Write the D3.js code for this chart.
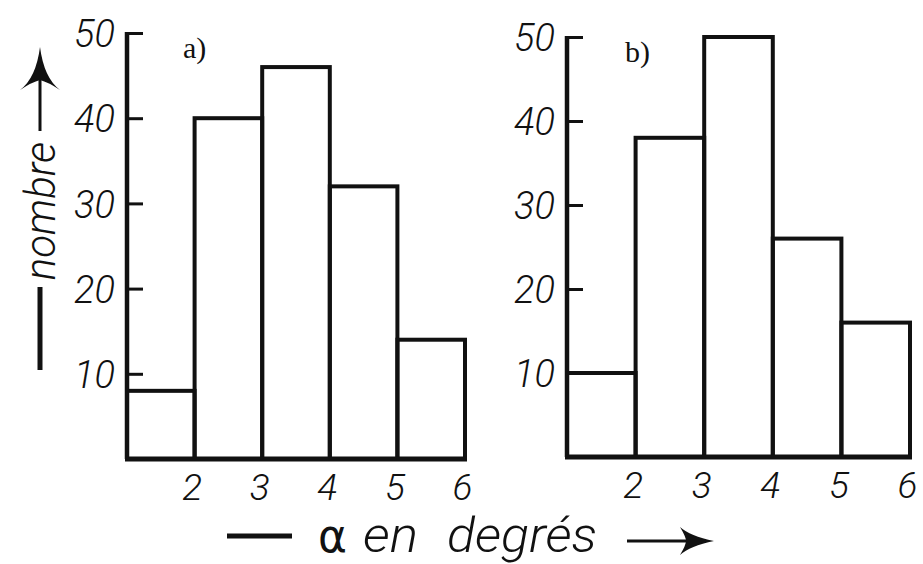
<!DOCTYPE html>
<html>
<head>
<meta charset="utf-8">
<script src="https://cdn.jsdelivr.net/npm/d3@7"></script>
<style>
  html, body { margin: 0; padding: 0; background: #ffffff; }
  svg { display: block; }
  .lbl { font-family: Roboto, "Liberation Sans", Arial, sans-serif; font-style: italic; font-weight: 300; fill: #111; }
  .panel-id { font-family: "Liberation Serif", "DejaVu Serif", serif; fill: #111; }
</style>
</head>
<body>
<svg id="chart" width="923" height="564"></svg>
<script>
// ---- data ----
const binEdges = [1, 2, 3, 4, 5, 6];
const xTickLabels = ["2", "3", "4", "5", "6"];
const xTickValues = [2, 3, 4, 5, 6];
const yTicks = [10, 20, 30, 40, 50];
const valuesA = [8, 40, 46, 32, 14];
const valuesB = [10, 38, 50, 26, 16];
const panelNames = ["a)", "b)"];
const xTitleWords = ["α", "en", "degrés"];
const yTitle = "nombre";

const svg = d3.select("#chart");
const ink = "#111";
const lblFont = "Roboto, 'Liberation Sans', Arial, sans-serif";

const panels = [
  { name: panelNames[0], values: valuesA, x0: 127, x1: 465, y0: 459, y50: 33, idX: 183, idY: 58 },
  { name: panelNames[1], values: valuesB, x0: 567, x1: 910, y0: 457, y50: 37, idX: 625, idY: 62 }
];

panels.forEach(p => {
  const x = d3.scaleLinear().domain([binEdges[0], binEdges[binEdges.length - 1]]).range([p.x0, p.x1]);
  const y = d3.scaleLinear().domain([0, 50]).range([p.y0, p.y50]);
  const g = svg.append("g");

  // bars
  const bins = p.values.map((v, i) => ({ lo: binEdges[i], hi: binEdges[i + 1], v }));
  g.selectAll("rect.bar").data(bins).enter().append("rect")
    .attr("class", "bar")
    .attr("x", d => x(d.lo))
    .attr("y", d => y(d.v))
    .attr("width", d => x(d.hi) - x(d.lo))
    .attr("height", d => y(0) - y(d.v))
    .attr("fill", "none")
    .attr("stroke", ink)
    .attr("stroke-width", 4);

  // baseline
  g.append("line")
    .attr("x1", x(binEdges[0]) - 2).attr("x2", x(binEdges[binEdges.length - 1]) + 2)
    .attr("y1", y(0)).attr("y2", y(0))
    .attr("stroke", ink).attr("stroke-width", 5);

  // y axis: ticks to the right, labels to the left
  const yAxis = d3.axisLeft(y).tickValues(yTicks).tickSize(-16).tickSizeOuter(0).tickPadding(12);
  const ya = g.append("g").attr("transform", `translate(${p.x0},0)`).call(yAxis);
  ya.select(".domain").attr("stroke", ink).attr("stroke-width", 4.5)
    .attr("d", `M0,${y(50) - 1}V${y(0)}`);
  ya.selectAll(".tick line").attr("stroke", ink).attr("stroke-width", 3);
  ya.selectAll(".tick text").attr("font-size", 38).attr("fill", ink)
    .style("font-family", lblFont).style("font-style", "italic").style("font-weight", 300)
    .attr("dy", "0.36em");

  // x labels (no tick marks)
  const xAxis = d3.axisBottom(x).tickValues(xTickValues).tickFormat((d, i) => xTickLabels[i]).tickSize(0).tickPadding(14);
  const xa = g.append("g").attr("transform", `translate(-3,${y(0)})`).call(xAxis);
  xa.select(".domain").remove();
  xa.selectAll(".tick text").attr("font-size", 37).attr("fill", ink)
    .style("font-family", lblFont).style("font-style", "italic").style("font-weight", 300)
    .attr("dy", "0.72em");

  // panel id
  g.append("text").attr("class", "panel-id").attr("x", p.idX).attr("y", p.idY)
    .attr("font-size", 30).text(p.name);
});

// ---- y title: —nombre→ (vertical, reading upward) ----
svg.append("line").attr("x1", 40).attr("x2", 40).attr("y1", 370).attr("y2", 287)
  .attr("stroke", ink).attr("stroke-width", 5);
svg.append("line").attr("x1", 40).attr("x2", 40).attr("y1", 131).attr("y2", 70)
  .attr("stroke", ink).attr("stroke-width", 3);
svg.append("path").attr("d", "M40,47 Q44,78 60,90 Q48,82 40,80 Q32,82 20,90 Q36,78 40,47 Z")
  .attr("fill", ink);
svg.append("text").attr("class", "lbl")
  .attr("transform", "translate(55,211) rotate(-90)")
  .attr("text-anchor", "middle").attr("font-size", 42).text(yTitle);

// ---- x title: — α en degrés → ----
svg.append("line").attr("x1", 227).attr("x2", 292).attr("y1", 536).attr("y2", 536)
  .attr("stroke", ink).attr("stroke-width", 5);
const wordX = [318, 363, 447];
const wordW = [29, 55, 150];
const xt = svg.append("text").attr("class", "lbl").attr("y", 552).attr("font-size", 48);
xTitleWords.forEach((w, i) => {
  const ts = xt.append("tspan").attr("x", wordX[i]).attr("textLength", wordW[i])
    .attr("lengthAdjust", "spacingAndGlyphs").text(w);
  if (i === 0) {
    ts.style("font-family", "'DejaVu Sans', sans-serif").style("font-style", "normal")
      .style("font-weight", 400).attr("font-size", 46);
  }
});
svg.append("line").attr("x1", 627).attr("x2", 690).attr("y1", 541).attr("y2", 541)
  .attr("stroke", ink).attr("stroke-width", 3);
svg.append("path").attr("d", "M714,541 Q690,536 680,527 Q686,537 686,541 Q686,545 680,555 Q690,546 714,541 Z")
  .attr("fill", ink);
</script>
</body>
</html>
